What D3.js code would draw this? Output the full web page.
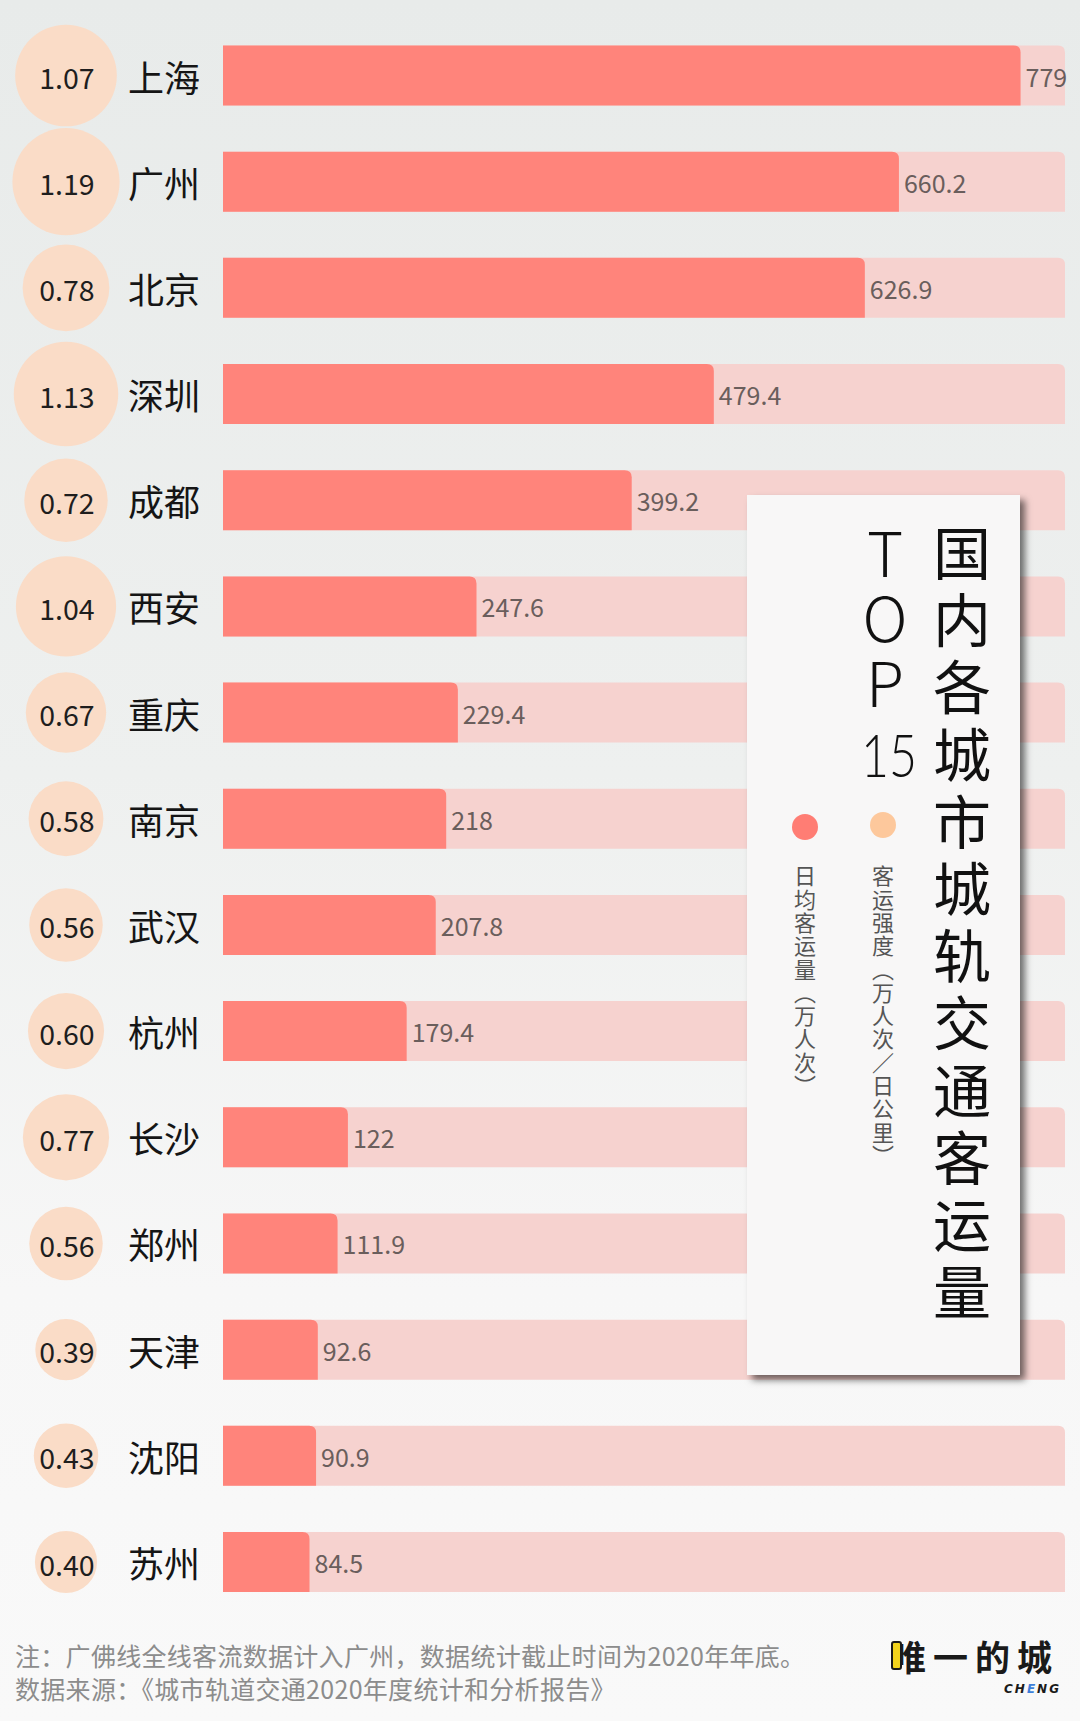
<!DOCTYPE html>
<html>
<head>
<meta charset="utf-8">
<script src="https://cdn.jsdelivr.net/npm/d3@7/dist/d3.min.js"></script>
<style>
  html, body { margin: 0; padding: 0; background: #f4f5f5; }
  svg { display: block; }
  text { font-family: "Noto Sans CJK SC", "Noto Sans", sans-serif; }
</style>
</head>
<body>
<svg id="chart" width="1080" height="1721"></svg>
<script>
// ---------------- data ----------------
const cities = ["上海", "广州", "北京", "深圳", "成都", "西安", "重庆", "南京", "武汉", "杭州", "长沙", "郑州", "天津", "沈阳", "苏州"];
const volume = [779, 660.2, 626.9, 479.4, 399.2, 247.6, 229.4, 218, 207.8, 179.4, 122, 111.9, 92.6, 90.9, 84.5];
const intensity = [1.07, 1.19, 0.78, 1.13, 0.72, 1.04, 0.67, 0.58, 0.56, 0.60, 0.77, 0.56, 0.39, 0.43, 0.40];
const volumeMax = 822.4;
const intensityLabels = intensity.map(v => v.toFixed(2));
const titleText = "国内各城市城轨交通客运量";
const topWord = "TOP";
const topNum = "15";
const legendVolume = "日均客运量（万人次）";
const legendIntensity = "客运强度（万人次／日公里）";
const noteLines = ["注：广佛线全线客流数据计入广州，数据统计截止时间为2020年年底。",
                   "数据来源：《城市轨道交通2020年度统计和分析报告》"];
const logoText = "唯一的城";
const logoSub = ["CH", "E", "NG"];

// ---------------- setup ----------------
const svg = d3.select("#chart");
const W = 1080, H = 1721;
const defs = svg.append("defs");
const bg = defs.append("linearGradient").attr("id", "bg").attr("x1", 0).attr("y1", 0).attr("x2", 0).attr("y2", 1);
bg.append("stop").attr("offset", "0%").attr("stop-color", "#e8ebea");
bg.append("stop").attr("offset", "45%").attr("stop-color", "#eef0ef");
bg.append("stop").attr("offset", "75%").attr("stop-color", "#f7f7f7");
bg.append("stop").attr("offset", "100%").attr("stop-color", "#f9f9f9");
const sh = defs.append("filter").attr("id", "shadow").attr("x", "-10%").attr("y", "-5%").attr("width", "130%").attr("height", "115%");
sh.append("feDropShadow").attr("dx", 5).attr("dy", 5).attr("stdDeviation", 3.5)
  .attr("flood-color", "#000").attr("flood-opacity", 0.55);

svg.append("rect").attr("width", W).attr("height", H).attr("fill", "url(#bg)");

// scales
const x = d3.scaleLinear().domain([0, volumeMax]).range([223, 1065]);
const y = d3.scalePoint().domain(cities).range([75.5, 1562]);
const r = d3.scaleSqrt().domain([0, 1.19]).range([0, 53.6]);
const barH = 60;
const circleX = 66;

function roundTR(x0, x1, yTop, h, rad) {
  const rr = Math.min(rad, x1 - x0);
  return `M${x0},${yTop}H${x1 - rr}Q${x1},${yTop} ${x1},${yTop + rr}V${yTop + h}H${x0}Z`;
}

const rows = cities.map((c, i) => ({ city: c, vol: volume[i], int: intensity[i], intLabel: intensityLabels[i] }));

const g = svg.append("g");
const row = g.selectAll("g.row").data(rows).join("g").attr("class", "row");

// background bars
row.append("path")
  .attr("d", d => roundTR(x(0), x(volumeMax), y(d.city) - barH / 2, barH, 7))
  .attr("fill", "#f6d2cf");
// value bars
row.append("path")
  .attr("d", d => roundTR(x(0), x(d.vol), y(d.city) - barH / 2, barH, 7))
  .attr("fill", "#ff847b");
// value labels
row.append("text")
  .attr("x", d => x(d.vol) + 5)
  .attr("y", d => y(d.city))
  .attr("dominant-baseline", "central")
  .attr("font-size", 25)
  .attr("fill", "#6a5e5c")
  .text(d => d.vol);
// circles
row.append("circle")
  .attr("cx", circleX)
  .attr("cy", d => y(d.city))
  .attr("r", d => r(d.int))
  .attr("fill", "#fadcc7");
row.append("text")
  .attr("x", circleX + 1)
  .attr("y", d => y(d.city) + 1)
  .attr("text-anchor", "middle")
  .attr("dominant-baseline", "central")
  .attr("font-size", 28.5)
  .attr("fill", "#1e1e1e")
  .text(d => d.intLabel);
// city names
row.append("text")
  .attr("x", 128)
  .attr("y", d => y(d.city))
  .attr("dominant-baseline", "central")
  .attr("font-size", 36)
  .attr("fill", "#151515")
  .text(d => d.city);

// ---------------- legend / title box ----------------
const box = svg.append("g");
box.append("rect")
  .attr("x", 747).attr("y", 495).attr("width", 273).attr("height", 880)
  .attr("fill", "#f8f7f7")
  .attr("filter", "url(#shadow)");

// main vertical title
box.append("text")
  .attr("x", 962).attr("y", 524)
  .attr("font-size", 58)
  .attr("fill", "#111")
  .style("writing-mode", "vertical-rl")
  .style("letter-spacing", "9.2px")
  .text(titleText);

// TOP (vertical, upright letters) and 15 (horizontal)
box.append("text")
  .attr("x", 885).attr("y", 522)
  .attr("font-size", 62)
  .attr("font-weight", 300)
  .attr("fill", "#111")
  .style("writing-mode", "vertical-rl")
  .style("text-orientation", "upright")
  .style("letter-spacing", "3px")
  .text(topWord);
box.append("text")
  .attr("x", 889).attr("y", 754)
  .attr("text-anchor", "middle")
  .attr("dominant-baseline", "central")
  .attr("font-size", 60)
  .attr("font-weight", 300)
  .attr("fill", "#111")
  .style("font-family", "Lato, 'Noto Sans', sans-serif")
  .attr("textLength", 56)
  .attr("lengthAdjust", "spacingAndGlyphs")
  .text(topNum);

// legend dots and labels
const legends = [
  { cx: 805, cy: 827, color: "#ff7d74", label: legendVolume },
  { cx: 883, cy: 825, color: "#fdc89c", label: legendIntensity }
];
const lg = box.selectAll("g.lg").data(legends).join("g").attr("class", "lg");
lg.append("circle").attr("cx", d => d.cx).attr("cy", d => d.cy).attr("r", 13).attr("fill", d => d.color);
lg.append("text")
  .attr("x", d => d.cx).attr("y", 865)
  .attr("font-size", 22)
  .attr("fill", "#555")
  .style("writing-mode", "vertical-rl")
  .style("letter-spacing", "1.3px")
  .text(d => d.label);

// ---------------- footer ----------------
svg.selectAll("text.note").data(noteLines).join("text")
  .attr("class", "note")
  .attr("x", 15)
  .attr("y", (d, i) => 1655 + i * 33)
  .attr("dominant-baseline", "central")
  .attr("font-size", 25)
  .attr("fill", "#8c8c8c")
  .style("letter-spacing", "0.3px")
  .text(d => d);

// logo
const logo = svg.append("g");
logo.append("text")
  .attr("x", 891).attr("y", 1655)
  .attr("dominant-baseline", "central")
  .attr("font-size", 35)
  .attr("font-weight", 700)
  .attr("fill", "#1a1a1a")
  .style("letter-spacing", "7px")
  .text(logoText);
logo.append("rect")
  .attr("x", 892).attr("y", 1642).attr("width", 9).attr("height", 27).attr("rx", 2)
  .attr("fill", "#f2d31c").attr("stroke", "#1a1a1a").attr("stroke-width", 2);
const sub = logo.append("text")
  .attr("x", 1061).attr("y", 1689)
  .attr("text-anchor", "end")
  .attr("dominant-baseline", "central")
  .attr("font-size", 12)
  .attr("font-weight", 900)
  .attr("font-style", "italic")
  .style("font-family", "'DejaVu Sans', sans-serif")
  .style("letter-spacing", "2px");
sub.selectAll("tspan").data(logoSub).join("tspan")
  .attr("fill", (d, i) => i === 1 ? "#3d7fd9" : "#1a1a1a")
  .text(d => d);
</script>
</body>
</html>
